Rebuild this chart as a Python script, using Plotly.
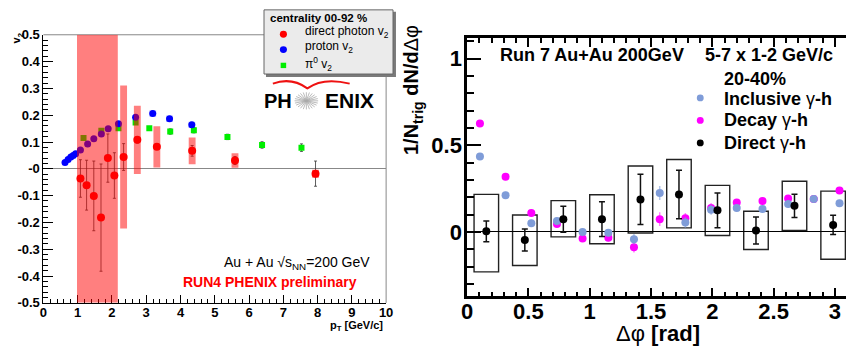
import math
import plotly.graph_objects as go

W, H = 853, 353
def X(px): return px / W
def Y(py): return 1 - py / H

FONT = "Liberation Sans"

# ---------------- left panel data ----------------
proton_pt = [0.63, 0.72, 0.80, 0.87, 0.94, 1.08, 1.29, 1.47, 1.69, 1.89, 2.19, 2.69, 3.19, 3.68, 4.33]
proton_v2 = [0.024, 0.035, 0.044, 0.050, 0.056, 0.070, 0.093, 0.112, 0.130, 0.149, 0.168, 0.192, 0.206, 0.187, 0.164]
proton_sys = [0, 0, 0, 0, 0, 0, 0, 0, 0, 0, 0, 0, 0.012, 0.012, 0.012]

pi0_pt = [1.17, 1.69, 2.19, 2.69, 3.09, 3.70, 4.39, 5.37, 6.38, 7.53]
pi0_v2 = [0.115, 0.142, 0.151, 0.173, 0.151, 0.139, 0.144, 0.119, 0.089, 0.079]
pi0_err = [0.006, 0.006, 0.006, 0.007, 0.007, 0.01, 0.01, 0.01, 0.012, 0.014]

photon_pt = [1.08, 1.26, 1.47, 1.68, 1.88, 2.07, 2.34, 2.74, 3.31, 4.34, 5.59, 7.94]
photon_v2 = [-0.036, -0.061, -0.101, -0.182, 0.040, -0.025, 0.044, 0.108, 0.082, 0.067, 0.031, -0.018]
photon_err = [0.07, 0.093, 0.13, 0.20, 0.09, 0.085, 0.05, 0.012, 0.01, 0.02, 0.015, 0.047]
photon_sys = [0.8, 0.8, 0.8, 0.8, 0.8, 0.8, 0.267, 0.127, 0.077, 0.05, 0.027, 0.015]

left_xticks = [0, 1, 2, 3, 4, 5, 6, 7, 8, 9, 10]
left_yticks = [-0.5, -0.4, -0.3, -0.2, -0.1, 0, 0.1, 0.2, 0.3, 0.4, 0.5]
left_ylabels = ["-0.5", "-0.4", "-0.3", "-0.2", "-0.1", "-0", "0.1", "0.2", "0.3", "0.4", "0.5"]
LEFT_YR = [-0.5, 0.5]

# ---------------- right panel data ----------------
direct_phi = [0.157, 0.471, 0.785, 1.100, 1.414, 1.728, 2.042, 2.356, 2.670, 2.985]
direct_y = [0.004, -0.046, 0.074, 0.074, 0.188, 0.217, 0.125, 0.009, 0.151, 0.041]
direct_err = [0.06, 0.063, 0.075, 0.1, 0.145, 0.14, 0.1, 0.078, 0.067, 0.055]
direct_sys_hi = [0.217, 0.098, 0.181, 0.215, 0.381, 0.418, 0.269, 0.120, 0.293, 0.236]
direct_sys_lo = [-0.230, -0.193, -0.028, -0.068, -0.006, 0.024, -0.020, -0.101, 0.009, -0.157]

phi15 = [0.105, 0.314, 0.524, 0.733, 0.942, 1.152, 1.361, 1.571, 1.780, 1.990, 2.199, 2.409, 2.618, 2.827, 3.037]
incl_y = [0.436, 0.212, 0.051, 0.064, 0.0, -0.004, -0.042, 0.225, 0.055, 0.129, 0.138, 0.133, 0.162, 0.191, 0.166]
incl_err = [0.02, 0.02, 0.02, 0.02, 0.02, 0.02, 0.03, 0.04, 0.03, 0.03, 0.02, 0.02, 0.02, 0.02, 0.02]
decay_y = [0.626, 0.319, 0.110, 0.046, -0.037, -0.033, -0.088, 0.074, 0.079, 0.138, 0.170, 0.179, 0.193, 0.191, 0.239]
decay_err = [0.02, 0.02, 0.02, 0.02, 0.02, 0.02, 0.03, 0.04, 0.03, 0.03, 0.02, 0.02, 0.02, 0.02, 0.02]

right_xticks = [0, 0.5, 1, 1.5, 2, 2.5, 3]
right_xlabels = ["0", "0.5", "1", "1.5", "2", "2.5", "3"]
right_yticks = [0, 0.5, 1]
right_ylabels = ["0", "0.5", "1"]

fig = go.Figure()

# left traces
fig.add_trace(go.Scatter(
    x=pi0_pt, y=pi0_v2, mode="markers", xaxis="x", yaxis="y",
    marker=dict(symbol="square", size=6, color="#00ee00"),
    error_y=dict(type="data", array=pi0_err, color="#333", thickness=0.8, width=1.5)))
fig.add_trace(go.Scatter(
    x=proton_pt, y=proton_v2, mode="markers", xaxis="x", yaxis="y",
    marker=dict(size=7, color="#0000ff")))
fig.add_trace(go.Scatter(
    x=photon_pt, y=photon_v2, mode="markers", xaxis="x", yaxis="y",
    marker=dict(size=8, color="#ff0000"),
    error_y=dict(type="data", array=photon_err, color="#333", thickness=0.8, width=1.5),
    error_x=dict(type="constant", value=0.08, color="#333", thickness=0.8, width=0)))

# right traces
fig.add_trace(go.Scatter(
    x=phi15, y=decay_y, mode="markers", xaxis="x2", yaxis="y2",
    marker=dict(size=8, color="#ff00ff"),
    error_y=dict(type="data", array=decay_err, color="rgba(255,0,255,0.5)", thickness=1.5, width=0)))
fig.add_trace(go.Scatter(
    x=phi15, y=incl_y, mode="markers", xaxis="x2", yaxis="y2",
    marker=dict(size=8, color="#7f9cd8"),
    error_y=dict(type="data", array=incl_err, color="rgba(127,156,216,0.6)", thickness=1.5, width=0)))
fig.add_trace(go.Scatter(
    x=direct_phi, y=direct_y, mode="markers", xaxis="x2", yaxis="y2",
    marker=dict(size=8, color="black"),
    error_y=dict(type="data", array=direct_err, color="#111", thickness=1.5, width=3)))

shapes = []
# left frame (top and right, gray)
shapes.append(dict(type="line", xref="x domain", yref="y domain", x0=0, x1=1, y0=1, y1=1,
                   line=dict(color="#888", width=1)))
shapes.append(dict(type="line", xref="x domain", yref="y domain", x0=1, x1=1, y0=0, y1=1,
                   line=dict(color="#888", width=1)))

# proton systematic boxes
for pt, v, s in zip(proton_pt, proton_v2, proton_sys):
    if s > 0:
        shapes.append(dict(type="rect", xref="x", yref="y", x0=pt - 0.1, x1=pt + 0.1,
                           y0=v - s, y1=v + s, fillcolor="rgba(110,130,255,0.45)",
                           line=dict(width=0), layer="below"))

# direct photon systematic boxes: +-0.1 wide, clipped to axis, touching ones merged
HW = 0.1
boxes = []
for pt, v, s in zip(photon_pt, photon_v2, photon_sys):
    y0 = max(v - s, LEFT_YR[0])
    y1 = min(v + s, LEFT_YR[1])
    x0, x1 = pt - HW, pt + HW
    if boxes and abs(boxes[-1][2] - y0) < 1e-9 and abs(boxes[-1][3] - y1) < 1e-9 and x0 <= boxes[-1][1] + 0.015:
        boxes[-1][1] = max(boxes[-1][1], x1)
    else:
        if boxes and x0 < boxes[-1][1]:
            x0 = boxes[-1][1]
        boxes.append([x0, x1, y0, y1])
for x0, x1, y0, y1 in boxes:
    shapes.append(dict(type="rect", xref="x", yref="y", x0=x0, x1=x1, y0=y0, y1=y1,
                       fillcolor="rgba(255,0,0,0.5)", line=dict(width=0), layer="above"))

# right panel: direct systematic boxes
for p, lo, hi in zip(direct_phi, direct_sys_lo, direct_sys_hi):
    shapes.append(dict(type="rect", xref="x2", yref="y2", x0=p - 0.1, x1=p + 0.1, y0=lo, y1=hi,
                       line=dict(color="#222", width=1.4), fillcolor="rgba(0,0,0,0)", layer="below"))

# left legend box with shadow
shapes.append(dict(type="rect", xref="paper", yref="paper", x0=X(264), x1=X(396), y0=Y(73), y1=Y(5),
                   fillcolor="#7a7a7a", line=dict(width=0)))
shapes.append(dict(type="rect", xref="paper", yref="paper", x0=X(262), x1=X(393), y0=Y(70), y1=Y(3),
                   fillcolor="#ebebeb", line=dict(color="#666", width=1)))

def dot(cx, cy, r, color, square=False):
    return dict(type="rect" if square else "circle", xref="paper", yref="paper",
                x0=X(cx - r), x1=X(cx + r), y0=Y(cy + r), y1=Y(cy - r),
                fillcolor=color, line=dict(width=0))

shapes.append(dot(281.7, 28.5, 3.6, "#ff0000"))
shapes.append(dot(281.7, 44.5, 3.6, "#0000ff"))
shapes.append(dot(281.7, 61, 2.8, "#00ee00", square=True))

# right legend dots
shapes.append(dot(705, 95, 3.5, "#7f9cd8"))
shapes.append(dot(705, 118.5, 3.5, "#ff00ff"))
shapes.append(dot(705, 142, 3.5, "black"))

# PHENIX logo star
cx, cy = 305, 98
for k in range(12):
    a = math.pi * k / 12
    dx, dy = 12 * math.cos(a), 9 * math.sin(a)
    shapes.append(dict(type="line", xref="paper", yref="paper",
                       x0=X(cx - dx), x1=X(cx + dx), y0=Y(cy - dy), y1=Y(cy + dy),
                       line=dict(color="#aaaaaa", width=0.8)))
# red arc
def P(a, b): return f"{X(a):.5f},{Y(b):.5f}"
arc = f"M {P(271,80)} Q {P(290,73)} {P(306,85)} Q {P(322,73)} {P(349,80)}"
shapes.append(dict(type="path", xref="paper", yref="paper", path=arc,
                   line=dict(color="#ee1111", width=2)))

ann = []
def txt(x, y, s, size, bold=False, color="black", anchor="center", angle=0):
    ann.append(dict(x=X(x), y=Y(y), xref="paper", yref="paper", text=s, showarrow=False,
                    xanchor=anchor, yanchor="middle", textangle=angle,
                    font=dict(family=FONT, size=size, color=color, weight="bold" if bold else "normal")))

# left panel texts
txt(266, 12, "centrality 00-92 %", 11.5, bold=True, anchor="left")
txt(302, 26, "direct photon v<sub>2</sub>", 12, anchor="left")
txt(302, 42, "proton v<sub>2</sub>", 12, anchor="left")
txt(302, 60, "π<sup>0</sup> v<sub>2</sub>", 12, anchor="left")
txt(276, 98, "PH", 20, bold=True)
txt(349, 98, "ENIX", 21, bold=True)
txt(219, 267, "Au + Au √s<sub>NN</sub>=200 GeV", 14, anchor="left")
txt(178, 287, "RUN4 PHENIX preliminary", 14, bold=True, color="#ff0000", anchor="left")
txt(385, 333, "p<sub>T</sub> [GeV/c]", 11, bold=True, anchor="right")
txt(11, 33, "v<sub>2</sub>", 11, bold=True, angle=-90)

# right panel texts
txt(500, 50, "Run 7 Au+Au 200GeV", 18, bold=True, anchor="left")
txt(708, 50, "5-7 x 1-2 GeV/c", 18, bold=True, anchor="left")
txt(727, 75, "20-40%", 18, bold=True, anchor="left")
txt(727, 96, "<b>Inclusive </b>γ<b>-h</b>", 18, anchor="left")
txt(727, 118.5, "<b>Decay </b>γ<b>-h</b>", 18, anchor="left")
txt(727, 142, "<b>Direct </b>γ<b>-h</b>", 18, anchor="left")
txt(413, 87, "<b>1/N<sub>trig</sub> dN/d</b>Δφ", 20, angle=-90)
txt(662, 341, "Δφ <b>[rad]</b>", 22)

lfont = dict(family=FONT, size=13, color="black", weight="bold")
rfont = dict(family=FONT, size=22, color="black", weight="bold")

fig.update_layout(
    width=W, height=H, margin=dict(l=0, r=0, t=0, b=0),
    paper_bgcolor="white", plot_bgcolor="white", showlegend=False,
    shapes=shapes, annotations=ann,
    xaxis=dict(domain=[X(38), X(386)], range=[0, 10], anchor="y",
               tickmode="array", tickvals=left_xticks,
               ticks="inside", ticklen=8, tickwidth=1, tickcolor="black",
               minor=dict(ticks="inside", dtick=0.2, tick0=0, ticklen=4, tickwidth=1, tickcolor="black", showgrid=False),
               showline=True, linecolor="black", linewidth=1, ticklabelstandoff=-2,
               showgrid=False, zeroline=False, tickfont=lfont),
    yaxis=dict(domain=[Y(309), Y(29)], range=LEFT_YR, anchor="x",
               tickmode="array", tickvals=left_yticks, ticktext=left_ylabels,
               ticks="inside", ticklen=10, tickwidth=1, tickcolor="black",
               minor=dict(ticks="inside", dtick=0.02, tick0=0, ticklen=5, tickwidth=1, tickcolor="black", showgrid=False),
               showline=True, linecolor="black", linewidth=1,
               showgrid=False, zeroline=True, zerolinecolor="#888", zerolinewidth=1, tickfont=lfont),
    xaxis2=dict(domain=[X(468.2), 1.0], range=[0, 3.09], anchor="y2",
                tickmode="array", tickvals=right_xticks, ticktext=right_xlabels,
                ticks="inside", ticklen=9, tickwidth=2, tickcolor="black",
                minor=dict(ticks="inside", dtick=0.1, tick0=0, ticklen=5, tickwidth=1.5, tickcolor="black", showgrid=False),
                showline=True, linecolor="black", linewidth=2.5, mirror="ticks", ticklabelstandoff=-7,
                showgrid=False, zeroline=False, tickfont=rfont),
    yaxis2=dict(domain=[Y(302.3), Y(32.3)], range=[-0.372, 1.12], anchor="x2",
                tickmode="array", tickvals=right_yticks, ticktext=right_ylabels,
                ticks="inside", ticklen=14, tickwidth=2, tickcolor="black",
                minor=dict(ticks="inside", dtick=0.1, tick0=0, ticklen=7, tickwidth=1.5, tickcolor="black", showgrid=False),
                showline=True, linecolor="black", linewidth=2.5, ticklabelstandoff=-2,
                showgrid=False, zeroline=True, zerolinecolor="black", zerolinewidth=1.2, tickfont=rfont),
)

fig.write_html("out.html")
